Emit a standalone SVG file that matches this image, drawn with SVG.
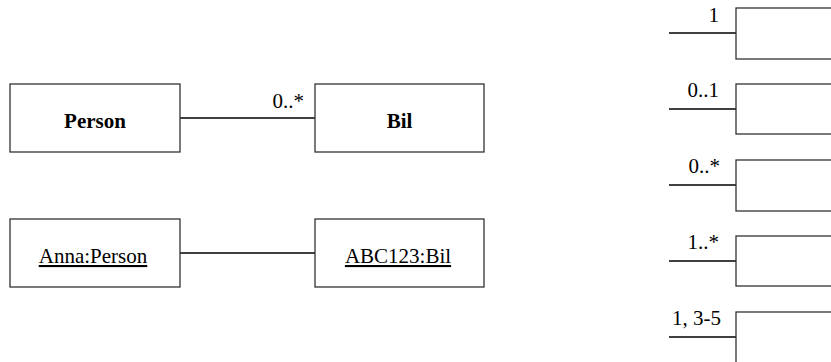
<svg xmlns="http://www.w3.org/2000/svg" width="831" height="362" viewBox="0 0 831 362">
<style>
.box{fill:#fff;stroke:#333;stroke-width:1.3}
.ln{stroke:#000;stroke-width:1.3;fill:none}
text{font-family:'Liberation Serif','Times New Roman',serif;font-size:21px;fill:#000}
.b{font-weight:bold;text-anchor:middle}
.m{text-anchor:middle;text-decoration:underline}
.r{text-anchor:end}
</style>
<rect width="831" height="362" fill="#fff"/>
<g id="connectors">
<line class="ln" x1="180" y1="118" x2="315" y2="118"/>
<line class="ln" x1="180" y1="253" x2="315" y2="253"/>
<line class="ln" x1="669" y1="33" x2="736" y2="33"/>
<line class="ln" x1="669" y1="109" x2="736" y2="109"/>
<line class="ln" x1="669" y1="185" x2="736" y2="185"/>
<line class="ln" x1="669" y1="261" x2="736" y2="261"/>
<line class="ln" x1="669" y1="337" x2="736" y2="337"/>
<text class="r" x="304" y="108">0..*</text>
<text class="r" x="719" y="22">1</text>
<text class="r" x="719" y="97">0..1</text>
<text class="r" x="720" y="173">0..*</text>
<text class="r" x="719" y="249">1..*</text>
<text class="r" x="721" y="325">1, 3-5</text>
</g>
<g id="person"><rect class="box" x="10" y="84" width="170" height="68"/><text class="b" x="95" y="128">Person</text></g>
<g id="bil"><rect class="box" x="315" y="84" width="169" height="68"/><text class="b" x="399.5" y="128">Bil</text></g>
<g id="anna"><rect class="box" x="10" y="219" width="170" height="68"/><text class="m" x="93" y="263">Anna:Person</text></g>
<g id="abc"><rect class="box" x="315" y="219" width="169" height="68"/><text class="m" x="398" y="263">ABC123:Bil</text></g>
<g id="m1"><rect class="box" x="736" y="8" width="110" height="51"/></g>
<g id="m2"><rect class="box" x="736" y="84" width="110" height="50"/></g>
<g id="m3"><rect class="box" x="736" y="160" width="110" height="51"/></g>
<g id="m4"><rect class="box" x="736" y="236" width="110" height="50"/></g>
<g id="m5"><rect class="box" x="736" y="312" width="110" height="60"/></g>
</svg>
